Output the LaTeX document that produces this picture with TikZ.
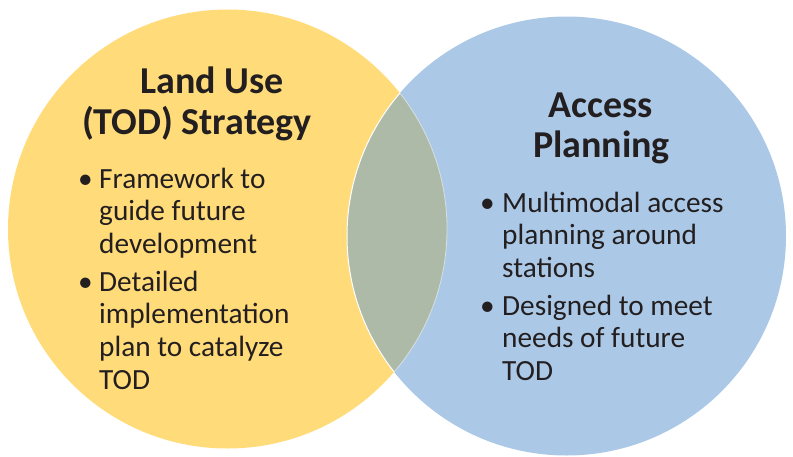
\documentclass[tikz,border=0pt]{standalone}
\usepackage{fontspec}
\setmainfont{Carlito}
\usetikzlibrary{calc}
\usetikzlibrary{positioning}

\definecolor{landyellow}{HTML}{FFDB79}
\definecolor{accessblue}{HTML}{ABC9E7}
\definecolor{overlapgreen}{HTML}{ACBAA7}
\definecolor{inktext}{HTML}{231F20}

\begin{document}
\begin{tikzpicture}[x=1pt,y=-1pt,
    title/.style={font=\fontsize{38}{42}\selectfont\bfseries, text=inktext, inner sep=0pt, anchor=base},
    item/.style={font=\fontsize{29.3}{32.8}\selectfont, text=inktext, inner sep=0pt, align=left, anchor=base west},
    dot/.style={font=\fontsize{29.3}{32.8}\selectfont, text=inktext, inner sep=0pt, anchor=base west},
  ]
\useasboundingbox (0,0) rectangle (793,456);
\coordinate (L) at (227.5,229);
\coordinate (R) at (566.5,236);
% circles
\fill[landyellow] (L) circle (219.5pt);
\fill[accessblue] (R) circle (219.5pt);
\begin{scope}
  \clip (L) circle (219.5pt);
  \fill[overlapgreen] (R) circle (219.5pt);
  \draw[white,line width=1pt] (R) circle (219.5pt);
\end{scope}
\begin{scope}
  \clip (R) circle (219.5pt);
  \draw[white,opacity=0.5,line width=0.8pt] (L) circle (219.5pt);
\end{scope}
% titles
\node[title] (t1) at (212,93) {Land Use};
\node[title] (t2) at (197,134) {(TOD) Strategy};
\node[title] (t3) at (600.5,117) {Access};
\node[title] (t4) at (601.5,157) {Planning};
% left list (nodes sit on their last baseline)
\node[dot] (b1) at (78,188) {\textbullet};
\node[item] (i1) at (99,253.6) {Framework to\\guide future\\development};
\node[dot] (b2) at (78,291) {\textbullet};
\node[item] (i2) at (99,389.4) {Detailed\\implementation\\plan to catalyze\\TOD};
% right list
\node[dot] (b3) at (480,212) {\textbullet};
\node[item] (i3) at (502,277.6) {Multimodal access\\planning around\\stations};
\node[dot] (b4) at (480,315) {\textbullet};
\node[item] (i4) at (502,380.6) {Designed to meet\\needs of future\\TOD};
\end{tikzpicture}
\end{document}
